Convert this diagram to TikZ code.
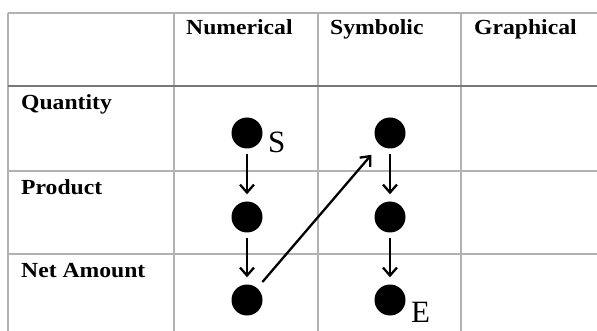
\documentclass[tikz,border=0pt]{standalone}
\usepackage{fontspec}
\setmainfont{Liberation Serif}
\newfontfamily\headfont{Liberation Serif}[FakeStretch=1.1]
\usetikzlibrary{arrows.meta}
\definecolor{gridgray}{RGB}{178,178,178}
\definecolor{rulegray}{RGB}{120,120,120}
\tikzset{
 gridline/.style = {gridgray, line width=1.5pt},
 headline/.style = {rulegray, line width=2.2pt},
 cell/.style = {anchor=base west, inner sep=0pt, font=\headfont\bfseries\fontsize{21.5}{24}\selectfont},
 dot/.style = {circle, fill=black, inner sep=0pt, minimum size=31pt},
 endlabel/.style = {anchor=base west, inner sep=0pt, font=\fontsize{31}{34}\selectfont},
 flow/.style = {black, line width=2.3pt, -{Straight Barb[length=8pt,width=14pt]}, shorten <=5pt, shorten >=7pt}
}

\begin{document}
\begin{tikzpicture}[x=1pt, y=-1pt]
\useasboundingbox (0,0) rectangle (597,331);
% table
\foreach \x in {8,174,318,461} {
 \draw[gridline] (\x,13) --++(0,318);
}
\foreach \y in {13,171,254} {
 \draw[gridline] (8,\y) -- (597,\y);
}
\draw[headline] (8,86) -- (597,86);
% headings
\node[cell] (numerical) at (186,35) {Numerical};
\node[cell] (symbolic) at (330,35) {Symbolic};
\node[cell] (graphical) at (474,35) {Graphical};
\node[cell] (quantity) at (21,110) {Quantity};
\node[cell] (product) at (21,195) {Product};
\node[cell] (netamount) at (21,277) {Net Amount};
% dots
\foreach \row/\y in {q/133, p/217, n/300} {
 \node[dot] (\row num) at (247,\y) {};
 \node[dot] (\row sym) at (390,\y) {};
}
\node[endlabel] (start) at (268,153) {S};
\node[endlabel] (end) at (411,322) {E};
% arrows
\draw[flow] (qnum) -- (pnum);
\draw[flow] (pnum) -- (nnum);
\draw[flow, shorten <=8pt, shorten >=13pt] (nnum) -- (qsym);
\draw[flow] (qsym) -- (psym);
\draw[flow] (psym) -- (nsym);
\end{tikzpicture}
\end{document}
